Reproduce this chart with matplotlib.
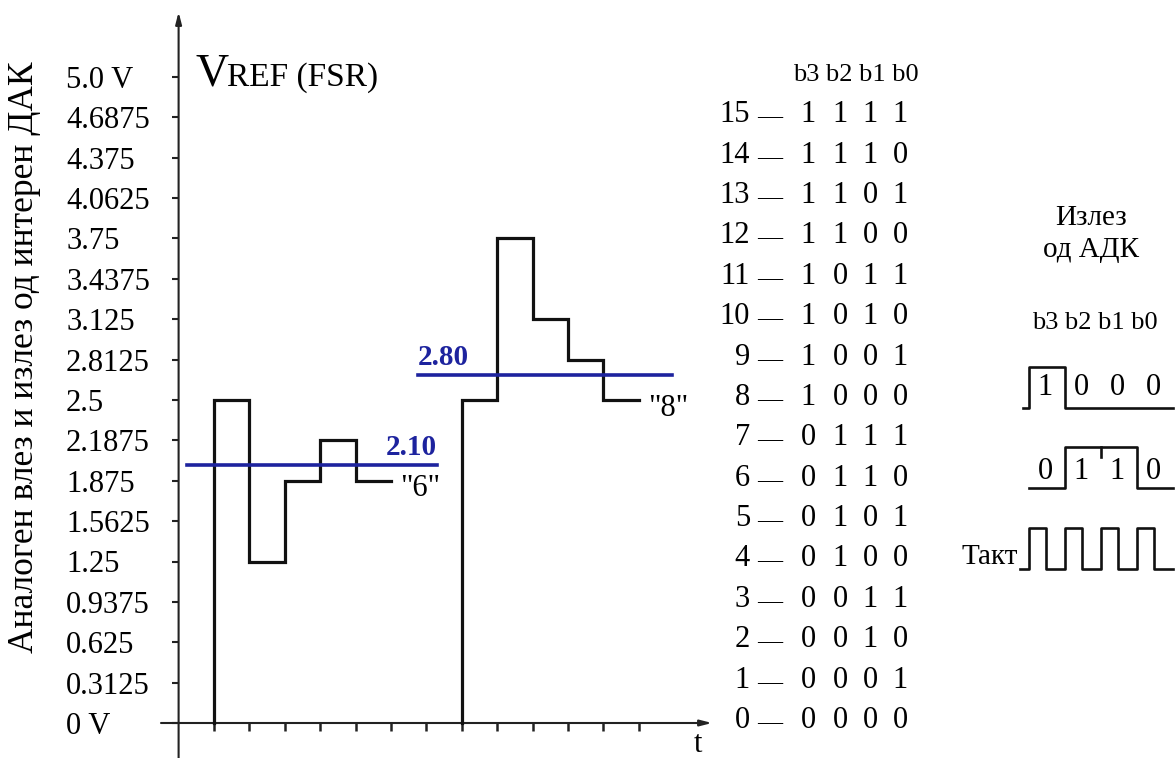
import matplotlib.pyplot as plt
import matplotlib.transforms as mtransforms
import numpy as np

plt.rcParams['font.family'] = ['Liberation Serif', 'DejaVu Serif']

# ---- data ----
lsb = 0.3125
ytick_vals = np.arange(17) * lsb
ytick_labels = ['0 V', '0.3125', '0.625', '0.9375', '1.25', '1.5625', '1.875',
                '2.1875', '2.5', '2.8125', '3.125', '3.4375', '3.75', '4.0625',
                '4.375', '4.6875', '5.0 V']
clock_ticks = np.arange(13)

# two conversions: clock at which each starts, DAC code tried on each clock
conv_start = [0, 7]
conv_codes = [[8, 4, 6, 7, 6], [8, 12, 10, 9, 8]]
conv_result = ['"6"', '"8"']

# analog input levels (blue) and their labels
vin = [2.0, 2.69]
vin_labels = ['2.10', '2.80']
vin_span = [(-0.75, 6.3), (5.75, 12.95)]

codes = list(range(16))

# ADC output words on the right
out_words = [[1, 0, 0, 0], [0, 1, 1, 0]]
n_clock = 4
clock_duty = 0.47

W, H = 1175, 758
blue = '#1d239e'

fig = plt.figure(figsize=(W / 100, H / 100), dpi=100)

# ---- main analog plot: 1 clock = 35.4 px, 1 LSB = 40.375 px ----
ax = fig.add_axes([0, 0, 1, 1])
kx = 35.4
ky = 40.375 / lsb
ax.set_xlim(-214 / kx, (W - 214) / kx)
ax.set_ylim(-(H - 723) / ky, 723 / ky)
for s in ax.spines.values():
    s.set_visible(False)
ax.spines['left'].set_position(('data', -1))
ax.spines['bottom'].set_position(('data', 0))
ax.patch.set_alpha(0)

# axis arrows
arr = dict(arrowstyle='-|>,head_length=0.7,head_width=0.18', lw=1.5, color='#222',
           shrinkA=0, shrinkB=0)
ax.annotate('', xy=(-1, (723 - 12) / ky), xytext=(-1, -(H - 723) / ky), arrowprops=arr)
ax.annotate('', xy=((712 - 214) / kx, 0), xytext=((161 - 214) / kx, 0), arrowprops=arr)

ax.set_yticks(ytick_vals)
ax.set_yticklabels(ytick_labels)
ax.set_yticks([5.0], minor=True)
ax.tick_params(axis='y', which='major', direction='out', length=5, width=1.5,
               color='#222', pad=76, labelsize=22)
ax.tick_params(axis='y', which='minor', direction='in', length=5, width=1.5, color='#222')
for t in ax.get_yticklabels():
    t.set_ha('left')
ax.set_xticks(clock_ticks)
ax.set_xticklabels([])
ax.tick_params(axis='x', direction='out', length=6, width=1.8, color='#222')

# DAC steps during each conversion
for start, cc, res in zip(conv_start, conv_codes, conv_result):
    lv = np.array(cc) * lsb
    xs = [start] + [start + i + d for i in range(len(lv)) for d in (0, 1)]
    ys = [0] + list(np.repeat(lv, 2))
    ax.plot(xs, ys, color='#111', lw=2.3, solid_joinstyle='miter', zorder=3)
    ax.text(start + len(lv) + 0.27, lv[-1] + 0.05, res, ha='left', va='top', fontsize=22)

# analog input lines
for v, lab, span, ha in zip(vin, vin_labels, vin_span, ['right', 'left']):
    ax.plot(span, [v, v], color=blue, lw=2.6, zorder=4)
    ax.text(span[0] if ha == 'left' else span[1], v + 10 / ky, lab, color=blue,
            ha=ha, va='baseline', fontsize=21, fontweight='bold')

# code table
trans = mtransforms.blended_transform_factory(fig.transFigure, ax.transData)
for c in codes:
    yb = c * lsb - 5 / ky
    ax.text(750 / W, yb, str(c), transform=trans, ha='right', va='baseline', fontsize=22)
    ax.text(770 / W, yb, '\u2014', transform=trans, ha='center', va='baseline', fontsize=18)
    for b, px in zip(format(c, '04b'), [808, 840, 870, 900]):
        ax.text(px / W, yb, b, transform=trans, ha='center', va='baseline', fontsize=22)
ax.text(856 / W, (723 - 81) / ky, 'b3 b2 b1 b0', transform=trans, ha='center',
        va='baseline', fontsize=19)

fig.text(196 / W, 1 - 86 / H, 'V', ha='left', va='baseline', fontsize=33)
fig.text(227 / W, 1 - 86 / H, 'REF (FSR)', ha='left', va='baseline', fontsize=24)
fig.text(698 / W, 1 - 745 / H, 't', ha='center', va='center', fontsize=22)
fig.text(25 / W, 1 - 357 / H, 'Аналоген влез и излез од интерен ДАК', rotation=90,
         ha='center', va='center', fontsize=25.5)

# ---- right: digital output waveforms, 1 bit = 36 px, 1 level = 41 px ----
ax2 = fig.add_axes([0, 0, 1, 1])
ax2.set_xlim(-1029 / 36, (W - 1029) / 36)
ax2.set_ylim(0, H / 41)
ax2.axis('off')
ax2.patch.set_alpha(0)

row_base = [8.54, 6.59]
digit_dy = [0.5, 0.4]
leads = [0.17, 0.0]
for bits, base, ddy, lead in zip(out_words, row_base, digit_dy, leads):
    xs = ([-lead] if lead else []) + list(range(len(bits) + 1))
    ys = ([0] if lead else []) + bits + [bits[-1] if bits[-1] == 0 else 0]
    ax2.plot(xs, np.array(ys) + base, drawstyle='steps-post', color='#111', lw=1.9)
    for i, b in enumerate(bits):
        ax2.text(i + 0.45, base + ddy, str(b), ha='center', va='center', fontsize=22)
        if i > 0 and b == 1 and bits[i - 1] == 1:
            ax2.plot([i, i], [base + 1, base + 0.75], color='#111', lw=1.9)

clk_base = 4.61
cx = [-0.25]
cy = [0]
for i in range(n_clock):
    cx += [i, i + clock_duty]
    cy += [1, 0]
cx.append(n_clock)
cy.append(0)
ax2.plot(cx, np.array(cy) + clk_base, drawstyle='steps-post', color='#111', lw=1.9)
ax2.text(-0.3, clk_base + 0.29, 'Такт', ha='right', va='center', fontsize=21)

fig.text(1091 / W, 1 - 234 / H, 'Излез\nод АДК', ha='center', va='center',
         fontsize=21, linespacing=1.3)
fig.text(1095 / W, 1 - 323 / H, 'b3 b2 b1 b0', ha='center', va='center', fontsize=19)

fig.savefig('out.png', dpi=100)
